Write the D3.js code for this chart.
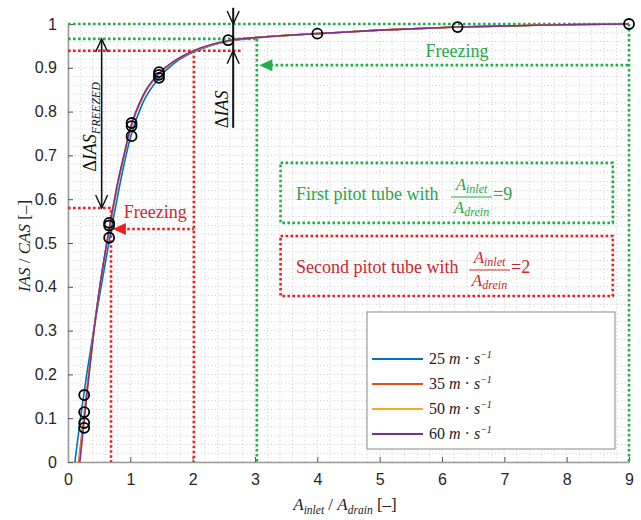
<!DOCTYPE html>
<html><head><meta charset="utf-8">
<script src="https://cdn.jsdelivr.net/npm/d3@7/dist/d3.min.js"></script>
<style>
html,body{margin:0;padding:0;background:#fff;}
svg{display:block;}
</style></head>
<body>
<svg id="chart" width="641" height="520"></svg>
<script>
// ---------- data ----------
const speedLabels = ["25", "35", "50", "60"];
const x25 = [0.11,0.2,0.3,0.4,0.5,0.6,0.7,0.8,0.9,1.0,1.2,1.45,1.7,2.0,2.3,2.6,3.0,3.5,4.0,5.0,6.25,7.5,8.2,9.0];
const y25 = [0,0.1,0.2,0.29,0.375,0.455,0.535,0.61,0.68,0.74,0.82,0.875,0.91,0.935,0.951,0.961,0.968,0.974,0.978,0.986,0.993,0.997,0.999,1.0];
const x35 = [0.17,0.3,0.4,0.5,0.6,0.7,0.8,0.9,1.0,1.2,1.45,1.7,2.0,2.3,2.6,3.0,3.5,4.0,5.0,6.25,7.5,8.2,9.0];
const y35 = [0,0.16,0.285,0.39,0.48,0.56,0.635,0.70,0.758,0.833,0.884,0.914,0.937,0.952,0.962,0.969,0.974,0.978,0.986,0.993,0.997,0.999,1.0];
const x50 = [0.18,0.3,0.4,0.5,0.6,0.7,0.8,0.9,1.0,1.2,1.45,1.7,2.0,2.3,2.6,3.0,3.5,4.0,5.0,6.25,7.5,8.2,9.0];
const y50 = [0,0.155,0.28,0.39,0.48,0.563,0.638,0.70,0.759,0.834,0.884,0.914,0.937,0.952,0.962,0.969,0.974,0.978,0.986,0.993,0.997,0.999,1.0];
const x60 = [0.19,0.3,0.4,0.5,0.6,0.7,0.8,0.9,1.0,1.2,1.45,1.7,2.0,2.3,2.6,3.0,3.5,4.0,5.0,6.25,7.5,8.2,9.0];
const y60 = [0,0.15,0.28,0.39,0.482,0.565,0.64,0.702,0.762,0.836,0.886,0.915,0.938,0.953,0.963,0.969,0.974,0.978,0.986,0.993,0.997,0.999,1.0];
const markerX = [0.26,0.26,0.26,0.26,0.66,0.66,0.66,1.02,1.02,1.02,1.46,1.46,1.46,2.57,4.0,6.25,9.0];
const markerY = [0.153,0.114,0.089,0.078,0.546,0.54,0.512,0.774,0.767,0.744,0.89,0.884,0.877,0.963,0.978,0.993,1.0];
const xTickValues = [0,1,2,3,4,5,6,7,8,9];
const yTickValues = [0,0.1,0.2,0.3,0.4,0.5,0.6,0.7,0.8,0.9,1];

// ---------- styles ----------
const seriesColors = ["#0072BD","#D95319","#EDB120","#7E2F8E"];
const GREEN = "#1fb04a", GREEN_T = "#2aa54a", RED = "#f01c1c", RED_T = "#c9282e";
const SERIF = "'Liberation Serif','Times New Roman',serif";
const SANS = "'Liberation Sans',Arial,sans-serif";

const svg = d3.select("#chart");
const L = 68, R = 629, T = 24, B = 462;
const x = d3.scaleLinear().domain([0,9]).range([L,R]);
const y = d3.scaleLinear().domain([0,1]).range([B,T]);

// grid (dotted)
const grid = svg.append("g");
grid.selectAll("line.vx").data(d3.range(0,9.001,0.2)).join("line")
  .attr("x1",d=>x(d)).attr("x2",d=>x(d)).attr("y1",y(0)).attr("y2",y(1))
  .attr("stroke","#cccccc").attr("stroke-width",1).attr("stroke-dasharray","1,2.5");
grid.selectAll("line.hy").data(d3.range(0,1.0001,0.02)).join("line")
  .attr("x1",x(0)).attr("x2",x(9)).attr("y1",d=>y(d)).attr("y2",d=>y(d))
  .attr("stroke","#cccccc").attr("stroke-width",1).attr("stroke-dasharray","1,2.5");

// axes
const xAxis = svg.append("g").attr("transform",`translate(0,${B})`)
  .call(d3.axisBottom(x).tickValues(xTickValues).tickFormat(d3.format("d")).tickSizeInner(-5).tickSizeOuter(0).tickPadding(12));
const yAxis = svg.append("g").attr("transform",`translate(${L},0)`)
  .call(d3.axisLeft(y).tickValues(yTickValues).tickFormat(d=>d===0?"0":d===1?"1":d3.format(".1f")(d)).tickSizeInner(-5).tickSizeOuter(0).tickPadding(11));
[xAxis,yAxis].forEach(a=>{
  a.select(".domain").attr("stroke","#9a9a9a").attr("stroke-width",1.6);
  a.selectAll(".tick line").attr("stroke","#555").attr("stroke-width",1);
  a.selectAll(".tick text").attr("font-size",16).attr("fill","#262626").attr("font-family",SANS);
});

// annotation dotted lines
function dotted(x1,y1,x2,y2,color){
  svg.append("line").attr("x1",x(x1)).attr("y1",y(y1)).attr("x2",x(x2)).attr("y2",y(y2))
    .attr("stroke",color).attr("stroke-width",2.6).attr("stroke-dasharray","2.6,2.4");
}
// green
dotted(0,1,9,1,GREEN);
dotted(9,1,9,0,GREEN);
dotted(0,0.966,3.05,0.966,GREEN);
dotted(3.03,0.966,3.03,0,GREEN);
dotted(3.25,0.906,9,0.906,GREEN);
// red
dotted(0,0.939,2.8,0.939,RED);
dotted(2.02,0.939,2.02,0,RED);
dotted(0,0.58,0.72,0.58,RED);
dotted(0.69,0.575,0.69,0,RED);
dotted(0.95,0.532,2.02,0.532,RED);

// arrow heads (filled)
function filledHead(xd,yd,color){
  const px=x(xd), py=y(yd);
  svg.append("path").attr("d",`M${px},${py} L${px+13},${py-6} L${px+13},${py+6} Z`).attr("fill",color);
}
filledHead(3.07,0.906,GREEN);
filledHead(0.72,0.532,RED);

// boxes
function box(x1,y1,x2,y2,color){
  svg.append("rect").attr("x",x(x1)).attr("y",y(y1)).attr("width",x(x2)-x(x1)).attr("height",y(y2)-y(y1))
    .attr("fill","none").attr("stroke",color).attr("stroke-width",2.6).attr("stroke-dasharray","2.6,2.4");
}
box(3.41,0.683,8.74,0.546,GREEN);
box(3.41,0.516,8.74,0.379,RED);

// texts in boxes
function boxText(tx,ty,label,val,color,fracX,fracW){
  svg.append("text").attr("x",tx).attr("y",ty).attr("font-family",SERIF).attr("font-size",18).attr("fill",color).text(label);
  const lineY = ty-3;
  svg.append("line").attr("x1",fracX).attr("x2",fracX+fracW).attr("y1",lineY).attr("y2",lineY).attr("stroke",color).attr("stroke-width",1.2);
  const num = svg.append("text").attr("x",fracX+fracW/2).attr("y",lineY-7).attr("text-anchor","middle")
    .attr("font-family",SERIF).attr("font-style","italic").attr("font-size",17).attr("fill",color);
  num.append("tspan").text("A");
  num.append("tspan").attr("font-size",12).attr("dy",3).text("inlet");
  const den = svg.append("text").attr("x",fracX+fracW/2).attr("y",lineY+16).attr("text-anchor","middle")
    .attr("font-family",SERIF).attr("font-style","italic").attr("font-size",17).attr("fill",color);
  den.append("tspan").text("A");
  den.append("tspan").attr("font-size",12).attr("dy",3).text("drein");
  svg.append("text").attr("x",fracX+fracW+1).attr("y",ty).attr("font-family",SERIF).attr("font-size",18).attr("fill",color).text("=" + val);
}
boxText(296,200,"First pitot tube with","9",GREEN_T,451,41);
boxText(296,273,"Second pitot tube with","2",RED_T,469,41);

// freezing labels
svg.append("text").attr("x",x(6.24)).attr("y",y(0.925)).attr("text-anchor","middle").attr("font-family",SERIF).attr("font-size",18).attr("fill",GREEN_T).text("Freezing");
svg.append("text").attr("x",x(1.4)).attr("y",y(0.557)).attr("text-anchor","middle").attr("font-family",SERIF).attr("font-size",18).attr("fill",RED_T).text("Freezing");

// black arrows
function openHead(px,py,dir){ // dir=-1 pointing up, 1 pointing down
  svg.append("path").attr("d",`M${px-6},${py-dir*13} L${px},${py} L${px+6},${py-dir*13}`)
    .attr("fill","none").attr("stroke","#111").attr("stroke-width",1.4);
}
// ΔIAS_FREEZED
const fx = x(0.54);
svg.append("line").attr("x1",fx).attr("x2",fx).attr("y1",y(0.966)).attr("y2",y(0.58)).attr("stroke","#111").attr("stroke-width",1.6);
openHead(fx,y(0.966),-1);
openHead(fx,y(0.58),1);
// ΔIAS
const dx = x(2.65);
svg.append("line").attr("x1",dx).attr("x2",dx).attr("y1",y(1.037)).attr("y2",y(0.763)).attr("stroke","#111").attr("stroke-width",2);
openHead(dx,y(1),1);
openHead(dx,y(0.939),-1);

// rotated labels
const lf = svg.append("text").attr("transform",`translate(96,${y(0.765)}) rotate(-90)`).attr("text-anchor","middle")
  .attr("font-family",SERIF).attr("font-size",18).attr("fill","#111");
lf.append("tspan").text("Δ");
lf.append("tspan").attr("font-style","italic").text("IAS");
lf.append("tspan").attr("font-style","italic").attr("font-size",12).attr("dy",4).text("FREEZED");
const li = svg.append("text").attr("transform",`translate(228,${y(0.805)}) rotate(-90)`).attr("text-anchor","middle")
  .attr("font-family",SERIF).attr("font-size",18).attr("fill","#111");
li.append("tspan").text("Δ");
li.append("tspan").attr("font-style","italic").text("IAS");

// curves
const seriesX = [x25,x35,x50,x60], seriesY = [y25,y35,y50,y60];
const line = d3.line().x(d=>x(d[0])).y(d=>y(d[1])).curve(d3.curveMonotoneX);
seriesX.forEach((xs,i)=>{
  svg.append("path").datum(xs.map((v,j)=>[v,seriesY[i][j]])).attr("d",line)
    .attr("fill","none").attr("stroke",seriesColors[i]).attr("stroke-width",1.6);
});

// markers
svg.append("g").selectAll("circle").data(markerX.map((v,i)=>[v,markerY[i]])).join("circle")
  .attr("cx",d=>x(d[0])).attr("cy",d=>y(d[1])).attr("r",5)
  .attr("fill","none").attr("stroke","#000").attr("stroke-width",1.8);

// legend
const lg = svg.append("g");
lg.append("rect").attr("x",367).attr("y",312).attr("width",248).attr("height",137).attr("fill","#fff").attr("stroke","#8a8a8a").attr("stroke-width",1);
speedLabels.forEach((s,i)=>{
  const ly = 359 + i*25;
  lg.append("line").attr("x1",372).attr("x2",423).attr("y1",ly).attr("y2",ly).attr("stroke",seriesColors[i]).attr("stroke-width",1.8);
  const t = lg.append("text").attr("x",429).attr("y",ly+5).attr("font-family",SERIF).attr("font-size",16).attr("fill","#222");
  t.append("tspan").text(s+" ");
  t.append("tspan").attr("font-style","italic").text("m");
  t.append("tspan").text(" · ");
  t.append("tspan").attr("font-style","italic").text("s");
  t.append("tspan").attr("font-style","italic").attr("font-size",10).attr("dy",-6).text("−1");
});

// axis labels
const yl = svg.append("text").attr("transform",`translate(30,246) rotate(-90)`).attr("text-anchor","middle")
  .attr("font-family",SERIF).attr("font-size",17).attr("fill","#222");
yl.append("tspan").attr("font-style","italic").text("IAS");
yl.append("tspan").text(" / ");
yl.append("tspan").attr("font-style","italic").text("CAS");
yl.append("tspan").text(" [–]");
const xl = svg.append("text").attr("x",345).attr("y",510).attr("text-anchor","middle")
  .attr("font-family",SERIF).attr("font-size",17).attr("fill","#222");
xl.append("tspan").attr("font-style","italic").text("A");
xl.append("tspan").attr("font-style","italic").attr("font-size",11.5).attr("dy",4).text("inlet");
xl.append("tspan").attr("dy",-4).text(" / ");
xl.append("tspan").attr("font-style","italic").text("A");
xl.append("tspan").attr("font-style","italic").attr("font-size",11.5).attr("dy",4).text("drain");
xl.append("tspan").attr("dy",-4).text(" [–]");
</script>
</body></html>
